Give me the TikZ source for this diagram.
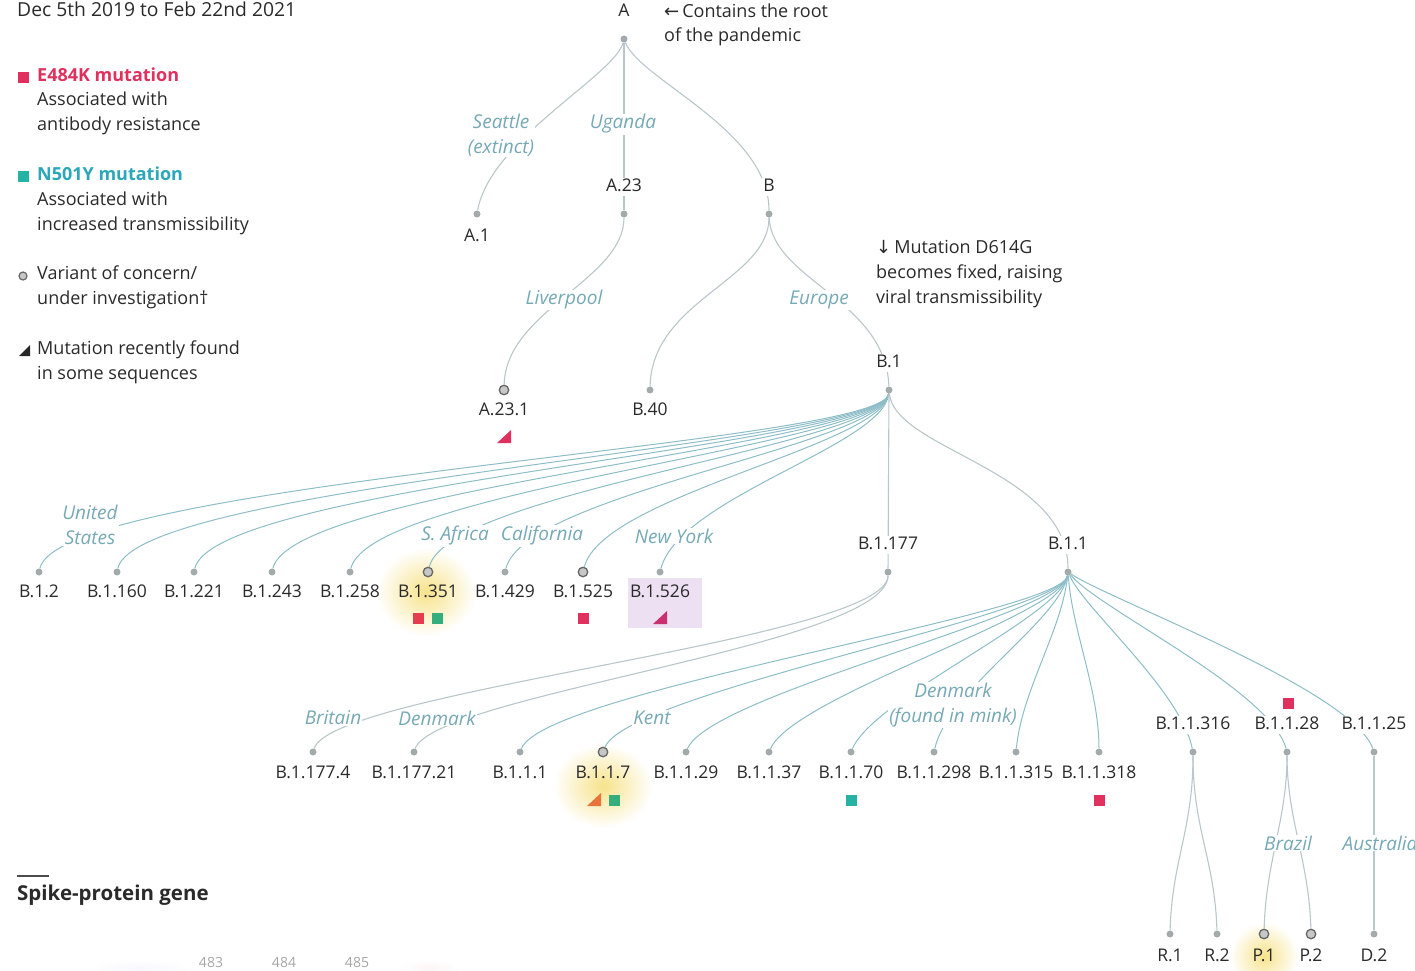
\documentclass[tikz,border=0pt]{standalone}
\usepackage{fontspec}
\setmainfont{Open Sans}
\newfontfamily\symfont{DejaVu Sans}
\usetikzlibrary{backgrounds}
\definecolor{txt}{HTML}{2A2A2A}
\definecolor{placec}{HTML}{76A9B6}
\definecolor{upline}{HTML}{B9C7CB}
\definecolor{fanline}{HTML}{8DBDC7}
\definecolor{dotc}{HTML}{A3AAAC}
\definecolor{ered}{HTML}{E0305E}
\definecolor{nteal}{HTML}{26B3A3}
\definecolor{ntext}{HTML}{2AA8BA}
\definecolor{ngreen}{HTML}{35AE7E}
\definecolor{glow}{HTML}{F7E38A}
\definecolor{lav}{HTML}{EEE0F3}
\definecolor{orng}{HTML}{E8743B}
\definecolor{magen}{HTML}{C9306F}
\begin{document}
\begin{tikzpicture}[x=1pt,y=-1pt,
 lab/.style={text=txt,font=\fontsize{17.5}{20}\selectfont,inner sep=1pt,text height=12.5pt,text depth=3.5pt},
 ilab/.style={lab,fill=white},
 placel/.style={text=placec,font=\fontsize{19}{25}\selectfont\itshape,fill=white,inner sep=1pt,align=center},
 dotn/.style={circle,fill=dotc,inner sep=0pt,minimum size=7pt},
 voc/.style={circle,draw=black!60,fill=black!22,line width=1.3pt,inner sep=0pt,minimum size=9.5pt},
 up/.style={draw=upline,line width=1.1pt},
 fan/.style={draw=fanline,line width=1pt},
 sq/.style={minimum size=11pt,inner sep=0pt},
 legtxt/.style={text=txt,font=\fontsize{18}{22}\selectfont,anchor=west,inner sep=0pt,text height=12.5pt,text depth=3.5pt}
]
\useasboundingbox (0,0) rectangle (1415,970);

% ---------- title and legend ----------
\node[legtxt,font=\fontsize{19.3}{22}\selectfont] (title) at (17,12) {Dec 5th 2019 to Feb 22nd 2021};
\node[sq,fill=ered] (sqE) at (23,77) {};
\node[legtxt,text=ered,font=\fontsize{18}{22}\selectfont\bfseries] (lE1) at (37,77) {E484K mutation};
\node[legtxt] (lE2) at (37,101) {Associated with};
\node[legtxt] (lE3) at (37,126) {antibody resistance};
\node[sq,fill=nteal] (sqN) at (23,176) {};
\node[legtxt,text=ntext,font=\fontsize{18}{22}\selectfont\bfseries] (lN1) at (37,176) {N501Y mutation};
\node[legtxt] (lN2) at (37,201) {Associated with};
\node[legtxt] (lN3) at (37,226) {increased transmissibility};
\node[voc,minimum size=8pt,line width=1.2pt] (vocL) at (23,276) {};
\node[legtxt] (lV1) at (37,275) {Variant of concern/};
\node[legtxt] (lV2) at (37,300) {under investigation†};
\fill[black!85] (19,356) -- (30,356) -- (30,345) -- cycle;
\node[legtxt] (lM1) at (37,350) {Mutation recently found};
\node[legtxt] (lM2) at (37,375) {in some sequences};

% ---------- upper tree ----------
\node[dotn] (dA) at (624,39) {};
\node[ilab] (lA) at (624,12) {A};
\node[legtxt] (cont1) at (664,13) {{\symfont ←}\,Contains the root};
\node[legtxt] (cont2) at (664,37) {of the pandemic};
\node[dotn] (dA1) at (477,214) {};
\node[lab] (lA1) at (477,237) {A.1};
\node[dotn] (dA23) at (624,214) {};
\node[ilab] (lA23) at (624,187) {A.23};
\node[dotn] (dB) at (769,214) {};
\node[ilab] (lB) at (769,187) {B};
\node[placel] (pSea) at (501,135) {Seattle\\(extinct)};
\node[placel] (pUga) at (623,124) {Uganda};
\node[voc] (dA231) at (504,390) {};
\node[lab] (lA231) at (504,411) {A.23.1};
\fill[ered] (497,443) -- (511,443) -- (511,430) -- cycle;
\node[dotn] (dB40) at (650,390) {};
\node[lab] (lB40) at (650,411) {B.40};
\node[dotn] (dB1) at (889,390) {};
\node[ilab] (lB1) at (889,363) {B.1};
\node[placel] (pLiv) at (564,300) {Liverpool};
\node[placel] (pEur) at (819,300) {Europe};
\node[legtxt] (mut1) at (876,249) {{\symfont ↓}\,Mutation D614G};
\node[legtxt] (mut2) at (876,274) {becomes fixed, raising};
\node[legtxt] (mut3) at (876,299) {viral transmissibility};

% ---------- B.1 children ----------
\node[dotn] (c1) at (39,572) {};   \node[lab] at (39,593) {B.1.2};
\node[dotn] (c2) at (117,572) {};  \node[lab] at (117,593) {B.1.160};
\node[dotn] (c3) at (194,572) {};  \node[lab] at (194,593) {B.1.221};
\node[dotn] (c4) at (272,572) {};  \node[lab] at (272,593) {B.1.243};
\node[dotn] (c5) at (350,572) {};  \node[lab] at (350,593) {B.1.258};
\node[voc]  (c6) at (428,572) {};  \node[lab] at (428,593) {B.1.351};
\node[dotn] (c7) at (505,572) {};  \node[lab] at (505,593) {B.1.429};
\node[voc]  (c8) at (583,572) {};  \node[lab] at (583,593) {B.1.525};
\node[dotn] (c9) at (660,572) {};  \node[lab] at (660,593) {B.1.526};
\node[sq,fill=ered!85!orange] (s6a) at (418,618) {};
\node[sq,fill=ngreen] (s6b) at (437,618) {};
\node[sq,fill=ered] (s8) at (583,618) {};
\fill[magen] (653,624) -- (667,624) -- (667,611) -- cycle;
\node[placel] (pUS) at (90,525) {United\\States};
\node[placel] (pSA) at (455,536) {S. Africa};
\node[placel] (pCal) at (542,536) {California};
\node[placel] (pNY) at (674,536) {New York};
\node[dotn] (dB1177) at (888,572) {};
\node[ilab] (lB1177) at (888,545) {B.1.177};
\node[dotn] (dB11) at (1068,572) {};
\node[ilab] (lB11) at (1068,545) {B.1.1};

% ---------- B.1.177 and B.1.1 children ----------
\node[dotn] (e1) at (313,752) {};  \node[lab] at (313,774) {B.1.177.4};
\node[dotn] (e2) at (414,752) {};  \node[lab] at (414,774) {B.1.177.21};
\node[placel] (pBri) at (333,718) {Britain};
\node[placel] (pDen) at (437,718) {Denmark};
\node[dotn] (f1) at (520,752) {};  \node[lab] at (520,774) {B.1.1.1};
\node[voc]  (f2) at (603,752) {};  \node[lab] at (603,774) {B.1.1.7};
\node[dotn] (f3) at (686,752) {};  \node[lab] at (686,774) {B.1.1.29};
\node[dotn] (f4) at (769,752) {};  \node[lab] at (769,774) {B.1.1.37};
\node[dotn] (f5) at (851,752) {};  \node[lab] at (851,774) {B.1.1.70};
\node[dotn] (f6) at (934,752) {};  \node[lab] at (934,774) {B.1.1.298};
\node[dotn] (f7) at (1016,752) {}; \node[lab] at (1016,774) {B.1.1.315};
\node[dotn] (f8) at (1099,752) {}; \node[lab] at (1099,774) {B.1.1.318};
\fill[orng] (587,806) -- (601,806) -- (601,793) -- cycle;
\node[sq,fill=ngreen] (s2) at (614,800) {};
\node[sq,fill=nteal] (s5) at (851,800) {};
\node[sq,fill=ered] (s8b) at (1099,800) {};
\node[placel] (pKent) at (652,718) {Kent};
\node[placel] (pMink) at (953,705) {Denmark\\(found in mink)};
\node[dotn] (g1) at (1193,752) {}; \node[ilab] (lg1) at (1193,725) {B.1.1.316};
\node[dotn] (g2) at (1287,752) {}; \node[ilab] (lg2) at (1287,725) {B.1.1.28};
\node[dotn] (g3) at (1374,752) {}; \node[ilab] (lg3) at (1374,725) {B.1.1.25};
\node[sq,fill=ered] (s28) at (1288,703) {};

% ---------- bottom leaves ----------
\node[dotn] (hR1) at (1170,934) {}; \node[lab] at (1170,957) {R.1};
\node[dotn] (hR2) at (1217,934) {}; \node[lab] at (1217,957) {R.2};
\node[voc]  (hP1) at (1264,934) {}; \node[lab] at (1264,957) {P.1};
\node[voc]  (hP2) at (1311,934) {}; \node[lab] at (1311,957) {P.2};
\node[dotn] (hD2) at (1374,934) {}; \node[lab] at (1374,957) {D.2};
\node[placel] (pBra) at (1288,843) {Brazil};
\node[placel] (pAus) at (1380,843) {Australia};

% ---------- spike protein ----------
\draw[black!70,line width=1.2pt] (17,876) -- (49,876);
\node[legtxt,font=\fontsize{20.5}{24}\selectfont\bfseries,text=txt] (spike) at (17,896) {Spike-protein gene};
\node[text=black!35,font=\fontsize{14}{16}\selectfont,inner sep=0pt] (n483) at (211,962) {483};
\node[text=black!35,font=\fontsize{14}{16}\selectfont,inner sep=0pt] (n484) at (284,962) {484};
\node[text=black!35,font=\fontsize{14}{16}\selectfont,inner sep=0pt] (n485) at (357,962) {485};

% ---------- background: highlights and connectors ----------
\begin{pgfonlayer}{background}
\shade[inner color=glow,outer color=white] (426,592) ellipse (50 and 44);
\shade[inner color=glow,outer color=white] (603,786) ellipse (50 and 42);
\shade[inner color=glow,outer color=white] (1264,956) ellipse (34 and 34);
\fill[lav] (628,578) rectangle (702,628);
\shade[inner color=blue!3,outer color=white] (140,968) ellipse (50 and 8);
\shade[inner color=red!4,outer color=white] (430,968) ellipse (30 and 8);

\draw[up] (dA) .. controls (615,75) and (490,140) .. (dA1);
\draw[up] (dA) -- (dA23);
\draw[up] (dA) .. controls (640,80) and (769,130) .. (dB);
\draw[up] (dA23) .. controls (624,280) and (506,310) .. (dA231);
\draw[up] (dB) .. controls (769,280) and (652,300) .. (dB40);
\draw[up] (dB) .. controls (772,280) and (886,300) .. (dB1);

\draw[fan] (dB1) .. controls (884,445) and (60,480) .. (c1);
\draw[fan] (dB1) .. controls (884,445) and (137,483) .. (c2);
\draw[fan] (dB1) .. controls (884,445) and (214,485) .. (c3);
\draw[fan] (dB1) .. controls (884,445) and (292,487) .. (c4);
\draw[fan] (dB1) .. controls (884,445) and (370,489) .. (c5);
\draw[fan] (dB1) .. controls (884,445) and (448,491) .. (c6);
\draw[fan] (dB1) .. controls (884,445) and (525,493) .. (c7);
\draw[fan] (dB1) .. controls (884,445) and (603,495) .. (c8);
\draw[fan] (dB1) .. controls (884,445) and (680,497) .. (c9);
\draw[up] (dB1) -- (dB1177);
\draw[up] (dB1) .. controls (895,450) and (1068,470) .. (dB11);

\draw[up] (dB1177) .. controls (888,640) and (333,690) .. (e1);
\draw[up] (dB1177) .. controls (888,645) and (434,695) .. (e2);

\draw[fan] (dB11) .. controls (1062,615) and (545,690) .. (f1);
\draw[fan] (dB11) .. controls (1062,615) and (628,692) .. (f2);
\draw[fan] (dB11) .. controls (1062,615) and (711,694) .. (f3);
\draw[fan] (dB11) .. controls (1062,615) and (794,696) .. (f4);
\draw[fan] (dB11) .. controls (1062,615) and (874,698) .. (f5);
\draw[fan] (dB11) .. controls (1060,620) and (948,690) .. (f6);
\draw[fan] (dB11) .. controls (1062,630) and (1022,690) .. (f7);
\draw[fan] (dB11) .. controls (1072,630) and (1099,690) .. (f8);
\draw[fan] (dB11) .. controls (1085,610) and (1180,690) .. (g1);
\draw[fan] (dB11) .. controls (1100,610) and (1270,690) .. (g2);
\draw[fan] (dB11) .. controls (1110,600) and (1352,690) .. (g3);

\draw[up] (g1) .. controls (1193,830) and (1172,860) .. (hR1);
\draw[up] (g1) .. controls (1193,830) and (1215,860) .. (hR2);
\draw[up] (g2) .. controls (1287,820) and (1266,860) .. (hP1);
\draw[up] (g2) .. controls (1287,820) and (1309,860) .. (hP2);
\draw[up] (g3) -- (hD2);
\end{pgfonlayer}
\end{tikzpicture}
\end{document}
